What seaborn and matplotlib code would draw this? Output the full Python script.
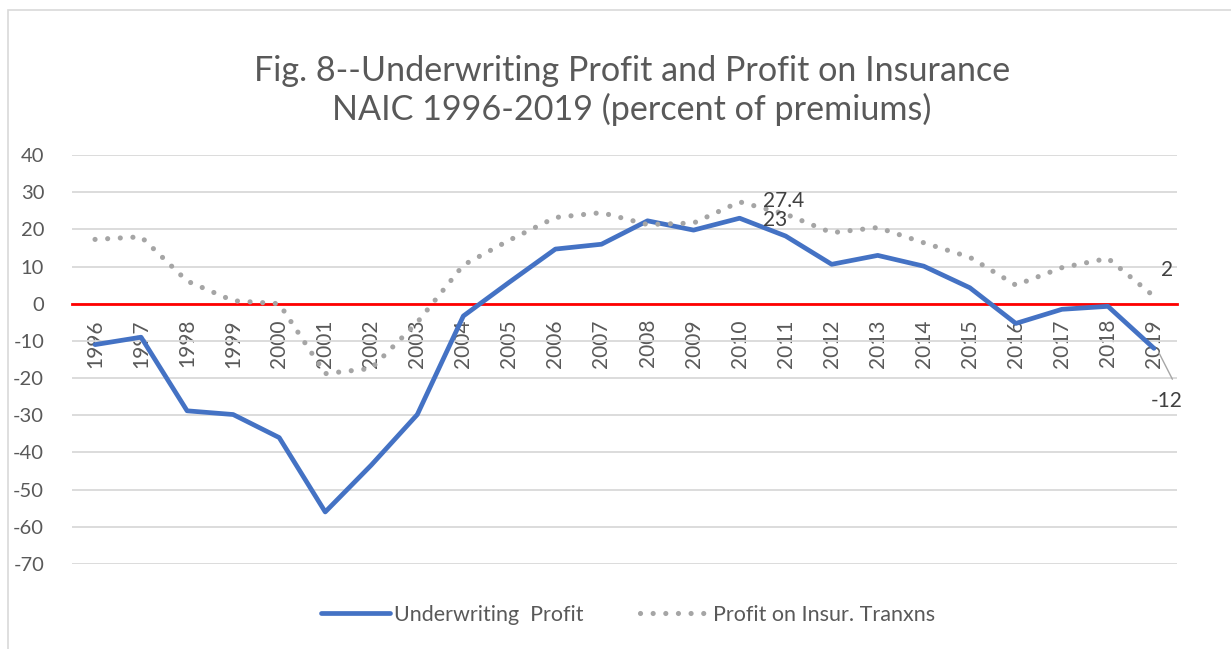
import matplotlib
matplotlib.use("Agg")
import matplotlib.pyplot as plt
import seaborn as sns
import pandas as pd
from matplotlib.patches import Rectangle

years = list(range(1996, 2020))
underwriting_profit = [-11, -9, -28.8, -29.8, -36, -56, -43.4, -29.8, -3.3, 5.8, 14.7, 16,
                       22.3, 19.8, 23, 18.2, 10.6, 13.0, 10.1, 4.3, -5.3, -1.5, -0.7, -12]
profit_insur = [17.3, 18, 6.1, 0.8, 0, -18.8, -17.4, -5, 10.4, 17.1, 23.2, 24.5,
                21.3, 21.7, 27.4, 24.1, 19.1, 20.5, 16.4, 12.5, 5.0, 9.7, 12.2, 2]
series_names = ["Underwriting  Profit", "Profit on Insur. Tranxns"]
title_text = "Fig. 8--Underwriting Profit and Profit on Insurance\nNAIC 1996-2019 (percent of premiums)"
yticks = list(range(-70, 41, 10))

sns.set_theme(style="white")
plt.rcParams['font.family'] = ['Lato', 'DejaVu Sans']
plt.rcParams['axes.unicode_minus'] = False

df = pd.DataFrame({"year": years, "uw": underwriting_profit, "pi": profit_insur})

fig = plt.figure(figsize=(12.31, 6.49), dpi=100)
ax = fig.add_axes([72/1231, 1-564/649, (1177-72)/1231, (564-155)/649])

blue = "#4472C4"
grey = "#A5A5A5"
sns.lineplot(data=df, x="year", y="uw", ax=ax, color=blue, linewidth=3.4,
             label=series_names[0], solid_capstyle="round", solid_joinstyle="round")
sns.lineplot(data=df, x="year", y="pi", ax=ax, color=grey, linewidth=3.7,
             linestyle=(0, (0.01, 2.45)), dash_capstyle="round",
             label=series_names[1])

ax.set_ylim(-70, 40)
ax.set_xlim(years[0] - 0.5, years[-1] + 0.5)
ax.set_xlabel("")
ax.set_ylabel("")
for s in ["top", "right", "left"]:
    ax.spines[s].set_visible(False)
ax.spines["bottom"].set_position(("data", 0))
ax.spines["bottom"].set_color("#FF0000")
ax.spines["bottom"].set_linewidth(2)
ax.spines["bottom"].set_zorder(1.5)
ax.set_yticks(yticks)
ax.set_xticks(years)
ax.set_xticklabels([str(y) for y in years])
ax.grid(axis="y", color="#D9D9D9", linewidth=1.3)
ax.grid(axis="x", visible=False)
ax.set_axisbelow(True)
ax.tick_params(axis="both", length=0, labelsize=14.5, labelcolor="#595959")
ax.tick_params(axis="x", pad=11, labelrotation=90, labelsize=15)
ax.tick_params(axis="y", pad=20)

# data labels
lab_kw = dict(fontsize=15, color="#404040", clip_on=False)
ax.text(years[14] + 0.5, profit_insur[14] + 0.3, f"{profit_insur[14]}", ha="left", va="center", **lab_kw)
ax.text(years[14] + 0.5, underwriting_profit[14] - 0.6, f"{underwriting_profit[14]:g}", ha="left", va="center", **lab_kw)
ax.text(years[-1] + 0.28, profit_insur[-1] + 7, f"{profit_insur[-1]:g}", ha="center", va="center", **lab_kw)
ax.plot([years[-1] + 0.1, years[-1] + 0.4], [underwriting_profit[-1] - 1, underwriting_profit[-1] - 8.3],
        color="#A6A6A6", linewidth=1, clip_on=False)
ax.text(years[-1] + 0.28, underwriting_profit[-1] - 14.2, f"{underwriting_profit[-1]:g}", ha="center", va="center", **lab_kw)

fig.suptitle(title_text, x=632/1231, y=1-55/649, fontsize=24.6, color="#595959",
             va="top", linespacing=1.2)

leg = ax.legend(loc="center", bbox_to_anchor=(628/1231, 1-615/649), bbox_transform=fig.transFigure,
                ncol=2, frameon=False, fontsize=15.5, handlelength=3.2, columnspacing=2.6,
                handletextpad=0.2)
for t in leg.get_texts():
    t.set_color("#595959")

fig.patches.append(Rectangle((8/1231, -0.1), 1.2, 1 - 10/649 + 0.1, transform=fig.transFigure,
                             fill=False, edgecolor="#D9D9D9", linewidth=1.2))

fig.savefig("out.png", dpi=100)
